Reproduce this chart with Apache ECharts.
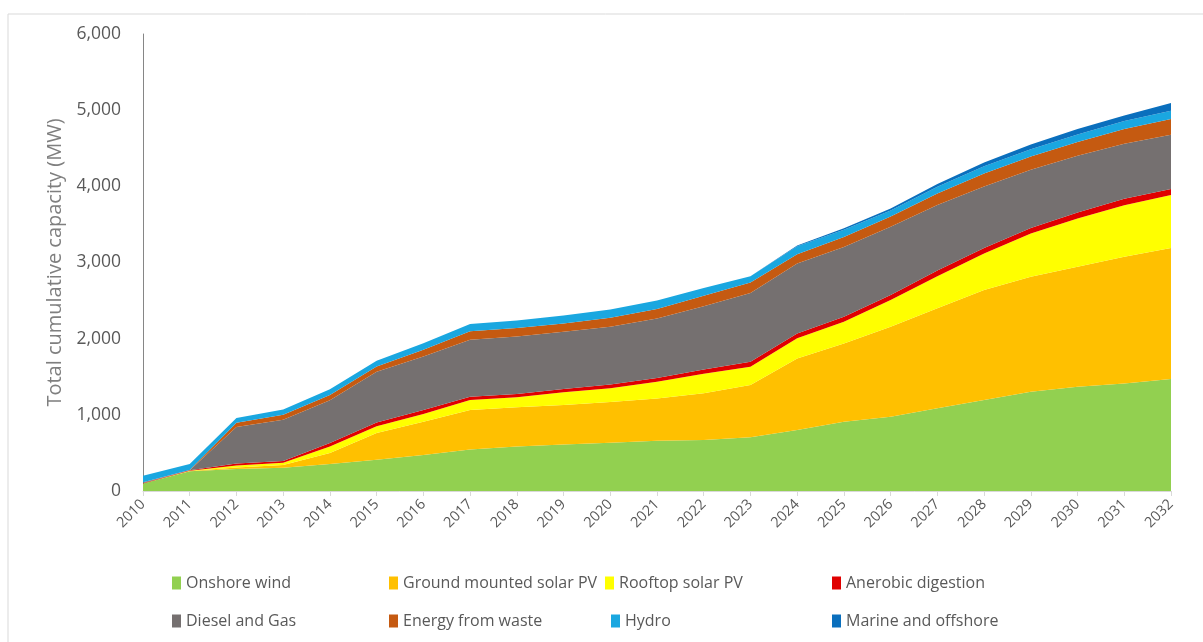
<!DOCTYPE html>
<html>
<head>
<meta charset="utf-8">
<script src="https://cdn.jsdelivr.net/npm/echarts@6/dist/echarts.min.js"></script>
<style>
  html, body { margin: 0; padding: 0; background: #ffffff; }
  #chart { width: 1203px; height: 642px; }
</style>
</head>
<body>
<div id="chart"></div>
<script>
// Years on the category axis
const years = ['2010','2011','2012','2013','2014','2015','2016','2017','2018','2019','2020','2021',
               '2022','2023','2024','2025','2026','2027','2028','2029','2030','2031','2032'];

// Installed capacity by technology (MW), stacked in this order
const onshoreWind   = [100,258,290,305,355,410,472,545,585,610,635,660,669,705,800,910,975,1085,1194,1303,1369,1413,1470];
const groundSolarPV = [0,4,20,35,145,350,438,518,515,520,535,556,613,686,941,1028,1181,1315,1444,1509,1574,1662,1720];
const rooftopSolarPV= [0,4,25,30,85,90,100,131,130,165,178,218,258,240,263,284,351,420,481,570,635,678,695];
const anaerobic     = [5,5,25,25,45,50,55,45,45,45,50,50,55,65,65,65,65,75,70,70,80,85,80];
const dieselGas     = [10,0,480,540,560,665,700,747,755,750,760,781,830,903,918,918,896,860,809,766,744,721,713];
const energyWaste   = [0,5,55,65,70,70,90,110,110,110,115,125,140,140,120,130,135,150,170,175,180,195,205];
const hydro         = [85,80,65,70,75,75,85,95,100,105,110,110,100,80,105,95,80,90,95,95,100,105,110];
const marineOffshore= [0,0,0,0,0,0,0,0,0,0,0,0,0,0,10,20,25,35,50,60,70,70,100];

const yTicks = [0, 1000, 2000, 3000, 4000, 5000, 6000];

const seriesDefs = [
  { name: 'Onshore wind',            data: onshoreWind,    color: '#92d050' },
  { name: 'Ground mounted solar PV', data: groundSolarPV,  color: '#ffc000' },
  { name: 'Rooftop solar PV',        data: rooftopSolarPV, color: '#ffff00' },
  { name: 'Anerobic digestion',      data: anaerobic,      color: '#e00000' },
  { name: 'Diesel and Gas',          data: dieselGas,      color: '#757070' },
  { name: 'Energy from waste',       data: energyWaste,    color: '#c55a11' },
  { name: 'Hydro',                   data: hydro,          color: '#1aa7e0' },
  { name: 'Marine and offshore',     data: marineOffshore, color: '#0a6fbd' }
];

const FONT = 'Open Sans';

// legend placement: two rows of four entries
const legendSpots = [
  [172, 575], [389, 575], [605, 575], [832, 575],
  [172, 613], [389, 613], [611, 613], [832, 613]
];
const legendOrder = ['Onshore wind','Ground mounted solar PV','Rooftop solar PV','Anerobic digestion',
                     'Diesel and Gas','Energy from waste','Hydro','Marine and offshore'];

const legends = legendOrder.map((name, i) => ({
  data: [name],
  left: legendSpots[i][0],
  top: legendSpots[i][1],
  padding: 0,
  icon: 'rect',
  itemWidth: 9,
  itemHeight: 13,
  itemGap: 0,
  selectedMode: false,
  textStyle: { fontFamily: FONT, fontSize: 16, color: '#595959', padding: [0, 0, 0, 0] }
}));

const chart = echarts.init(document.getElementById('chart'), null, { renderer: 'canvas' });

chart.setOption({
  backgroundColor: '#ffffff',
  animation: false,
  graphic: [
    { type: 'line', shape: { x1: 8, y1: 14, x2: 1203, y2: 14 }, style: { stroke: '#d9d9d9', lineWidth: 1 } },
    { type: 'line', shape: { x1: 8, y1: 14, x2: 8, y2: 642 }, style: { stroke: '#d9d9d9', lineWidth: 1 } }
  ],
  legend: legends,
  grid: { left: 143, right: 32, top: 34, bottom: 151, containLabel: false },
  xAxis: {
    type: 'category',
    data: years,
    boundaryGap: false,
    axisLine: { show: true, lineStyle: { color: '#d9d9d9', width: 1 } },
    axisTick: { show: true, length: 5, lineStyle: { color: '#d9d9d9' } },
    axisLabel: { rotate: 45, fontFamily: FONT, fontSize: 14.5, color: '#595959', margin: 11, interval: 0 },
    splitLine: { show: false }
  },
  yAxis: {
    type: 'value',
    min: yTicks[0],
    max: yTicks[yTicks.length - 1],
    interval: 1000,
    name: 'Total cumulative capacity (MW)',
    nameLocation: 'middle',
    nameGap: 78,
    nameTextStyle: { fontFamily: FONT, fontSize: 20, color: '#7f7f7f' },
    axisLine: { show: true, lineStyle: { color: '#868686', width: 1 } },
    axisTick: { show: false },
    splitLine: { show: false },
    axisLabel: {
      fontFamily: FONT, fontSize: 17.5, color: '#595959', margin: 22,
      formatter: v => v.toLocaleString('en-US')
    }
  },
  series: seriesDefs.map(s => ({
    name: s.name,
    type: 'line',
    stack: 'total',
    data: s.data,
    symbol: 'none',
    showSymbol: false,
    lineStyle: { width: 0, color: s.color },
    itemStyle: { color: s.color },
    areaStyle: { color: s.color, opacity: 1 },
    emphasis: { disabled: true }
  }))
});
</script>
</body>
</html>
